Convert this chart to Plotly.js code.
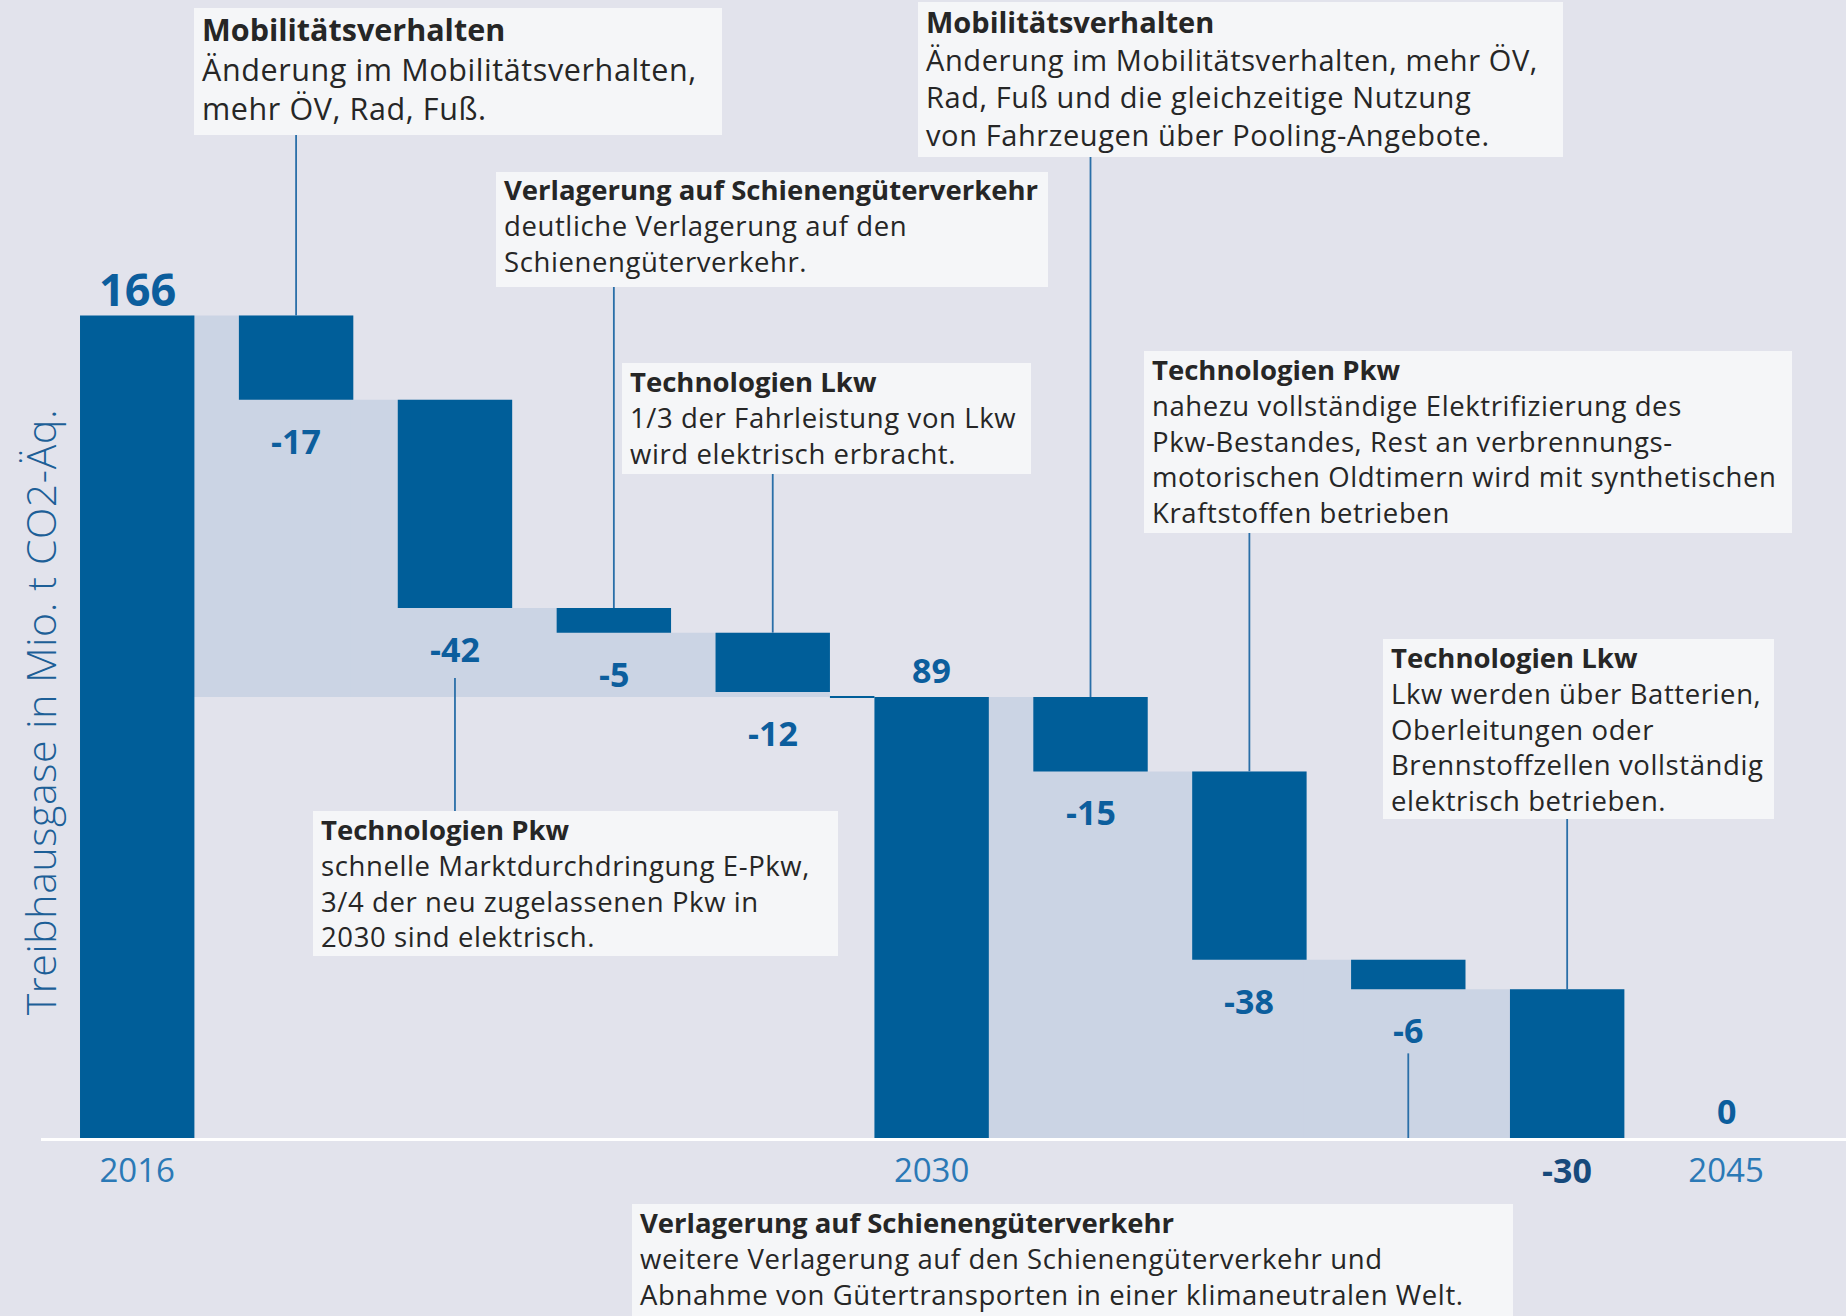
<!DOCTYPE html>
<html>
<head>
<meta charset="utf-8">
<script src="https://cdn.plot.ly/plotly-3.0.1.min.js"></script>
<style>
  html, body { margin: 0; padding: 0; background: #e2e3ec; }
  #chart { width: 1846px; height: 1316px; }
  .annotation-text-g text { letter-spacing: 0.6px; }
  .annotation-text-g tspan[style*="bold"] { letter-spacing: 0px; }
</style>
</head>
<body>
<div id="chart"></div>
<script>
// ---------------- DATA ----------------
const categories = ['2016', 'Mobilitätsverhalten I', 'Technologien Pkw I', 'Verlagerung Schiene I', 'Technologien Lkw I',
                    '2030', 'Mobilitätsverhalten II', 'Technologien Pkw II', 'Verlagerung Schiene II', 'Technologien Lkw II', '2045'];
const measures = ['absolute', 'relative', 'relative', 'relative', 'relative',
                  'absolute', 'relative', 'relative', 'relative', 'relative', 'absolute'];
const values = [166, -17, -42, -5, -12, 89, -15, -38, -6, -30, 0];
const valueLabels = ['166', '-17', '-42', '-5', '-12', '89', '-15', '-38', '-6', '-30', '0'];
const yearTickVals = ['2016', '2030', '2045'];
const yearTickText = ['2016', '2030', '2045'];
const yAxisTitle = 'Treibhausgase in Mio. t CO2-Äq.';

const noteTitles = [
  'Mobilitätsverhalten',
  'Verlagerung auf Schienengüterverkehr',
  'Technologien Lkw',
  'Technologien Pkw',
  'Mobilitätsverhalten',
  'Technologien Pkw',
  'Technologien Lkw',
  'Verlagerung auf Schienengüterverkehr'
];
const noteTexts = [
  ['Änderung im Mobilitätsverhalten,', 'mehr ÖV, Rad, Fuß.'],
  ['deutliche Verlagerung auf den', 'Schienengüterverkehr.'],
  ['1/3 der Fahrleistung von Lkw', 'wird elektrisch erbracht.'],
  ['schnelle Marktdurchdringung E-Pkw,', '3/4 der neu zugelassenen Pkw in', '2030 sind elektrisch.'],
  ['Änderung im Mobilitätsverhalten, mehr ÖV,', 'Rad, Fuß und die gleichzeitige Nutzung', 'von Fahrzeugen über Pooling-Angebote.'],
  ['nahezu vollständige Elektrifizierung des', 'Pkw-Bestandes, Rest an verbrennungs-', 'motorischen Oldtimern wird mit synthetischen', 'Kraftstoffen betrieben'],
  ['Lkw werden über Batterien,', 'Oberleitungen oder', 'Brennstoffzellen vollständig', 'elektrisch betrieben.'],
  ['weitere Verlagerung auf den Schienengüterverkehr und', 'Abnahme von Gütertransporten in einer klimaneutralen Welt.']
];
const noteTargets = [1, 3, 4, 2, 6, 7, 9, 8];

// ---------------- LAYOUT CONSTANTS ----------------
const FONT = '"Open Sans", "Noto Sans", "DejaVu Sans", sans-serif';
const BAR_COLOR = '#005e99';
const FILL_COLOR = '#cbd4e4';
const BG = '#e2e3ec';
const BOX_BG = '#f5f6f8';
const LINE_COLOR = '#2a6fa8';
const LABEL_COLOR = '#0c5e9d';
const YEAR_COLOR = '#2b79b6';

const W = 1846, H = 1316;
const M = { l: 41, r: 0, t: 0, b: 178 };
const plotW = W - M.l - M.r, plotH = H - M.t - M.b;
const Y_MAX = 229.7;
const pxPerUnit = plotH / Y_MAX;
const X_RANGE = [-0.6055, 10.755];
const GAP = 0.28;
const HW = (1 - GAP) / 2;
const SEAM = 0.02;

// box layout in page pixels: left, top, width, height, font size, side
const noteBoxes = [
  { x: 194, y: 8, w: 528, h: 127, fs: 30.5, side: 'above' },
  { x: 496, y: 172, w: 552, h: 115, fs: 27.5, side: 'above' },
  { x: 622, y: 363, w: 409, h: 111, fs: 27.5, side: 'above' },
  { x: 313, y: 811, w: 525, h: 145, fs: 27.5, side: 'below', gapPx: 70 },
  { x: 918, y: 2, w: 645, h: 155, fs: 29, side: 'above' },
  { x: 1144, y: 351, w: 648, h: 182, fs: 27.5, side: 'above' },
  { x: 1383, y: 639, w: 391, h: 180, fs: 27.5, side: 'above' },
  { x: 632, y: 1204, w: 881, h: 130, fs: 27.5, side: 'below', gapPx: 64 }
];
const TEXT_PAD_X = 7, TEXT_PAD_Y = -1.5;

const px2paperX = px => (px - M.l) / plotW;
const px2paperY = py => (M.t + plotH - py) / plotH;
const px2dataY = py => (M.t + plotH - py) / pxPerUnit;

// ---------------- DERIVED LEVELS ----------------
const tops = [], bottoms = [];
let level = 0;
values.forEach((v, i) => {
  if (measures[i] === 'absolute') { bottoms.push(0); tops.push(v); level = v; }
  else { tops.push(level); level += v; bottoms.push(level); }
});
const floors = values.map((v, i) => {
  for (let j = i + 1; j < values.length; j++) if (measures[j] === 'absolute') return values[j];
  return 0;
});

// ---------------- SHAPES ----------------
const shapes = [];
values.forEach((v, i) => {
  if (measures[i] === 'relative') {
    shapes.push({ type: 'rect', xref: 'x', yref: 'y', layer: 'below',
      x0: i - 1 + HW - SEAM, x1: i + HW, y0: floors[i], y1: tops[i],
      fillcolor: FILL_COLOR, line: { width: 0 } });
  } else if (i > 0 && v > 0) {
    shapes.push({ type: 'line', xref: 'x', yref: 'y', layer: 'below',
      x0: i - 1 + HW, x1: i - HW, y0: v, y1: v,
      line: { color: BAR_COLOR, width: 2 } });
  }
});
noteBoxes.forEach(b => {
  shapes.push({ type: 'rect', xref: 'paper', yref: 'paper', layer: 'above',
    x0: px2paperX(b.x), x1: px2paperX(b.x + b.w), y0: px2paperY(b.y + b.h), y1: px2paperY(b.y),
    fillcolor: BOX_BG, line: { width: 0 } });
});
noteBoxes.forEach((b, k) => {
  const t = noteTargets[k];
  let y0, y1;
  if (b.side === 'above') { y0 = px2dataY(b.y + b.h); y1 = tops[t]; }
  else { y0 = bottoms[t] - b.gapPx / pxPerUnit; y1 = px2dataY(b.y); }
  shapes.push({ type: 'line', xref: 'x', yref: 'y', layer: 'above',
    x0: t, x1: t, y0: y0, y1: y1, line: { color: LINE_COLOR, width: 1.8 } });
});

// ---------------- ANNOTATIONS ----------------
const annotations = [];
values.forEach((v, i) => {
  const isAbs = measures[i] === 'absolute';
  const belowAxis = !isAbs && bottoms[i] === 0;
  annotations.push({
    x: i, y: isAbs ? tops[i] : bottoms[i], xref: 'x', yref: 'y',
    text: '<b>' + valueLabels[i] + '</b>', showarrow: false,
    xanchor: 'center', yanchor: 'middle', yshift: isAbs ? 27 : (belowAxis ? -32 : -41),
    font: { family: FONT, size: i === 0 ? 45 : 34, color: belowAxis ? '#174a7c' : LABEL_COLOR }
  });
});
noteBoxes.forEach((b, k) => {
  annotations.push({
    xref: 'paper', yref: 'paper', x: px2paperX(b.x + TEXT_PAD_X), y: px2paperY(b.y + TEXT_PAD_Y),
    xanchor: 'left', yanchor: 'top', showarrow: false, borderpad: 0,
    align: 'left',
    text: '<b>' + noteTitles[k] + '</b><br>' + noteTexts[k].join('<br>'),
    font: { family: FONT, size: b.fs, color: '#262626' }
  });
});
annotations.push({
  xref: 'paper', yref: 'paper', x: px2paperX(40), y: px2paperY(712),
  xanchor: 'center', yanchor: 'middle', showarrow: false, textangle: -90,
  text: yAxisTitle, font: { family: FONT, size: 41, color: '#1d5f97', weight: 300 }
});

// ---------------- TRACE ----------------
const trace = {
  type: 'waterfall', x: categories, y: values, measure: measures,
  increasing: { marker: { color: BAR_COLOR, line: { width: 0 } } },
  decreasing: { marker: { color: BAR_COLOR, line: { width: 0 } } },
  totals: { marker: { color: BAR_COLOR, line: { width: 0 } } },
  connector: { visible: false }, textinfo: 'none', hoverinfo: 'skip'
};

const layout = {
  width: W, height: H, margin: M,
  paper_bgcolor: BG, plot_bgcolor: BG,
  showlegend: false, waterfallgap: GAP,
  xaxis: {
    type: 'category', range: X_RANGE, showgrid: false, zeroline: false,
    showline: true, linecolor: '#ffffff', linewidth: 3,
    tickmode: 'array', tickvals: yearTickVals, ticktext: yearTickText, ticks: '',
    ticklabelstandoff: 1,
    tickfont: { family: FONT, size: 33, color: YEAR_COLOR }
  },
  yaxis: { range: [0, Y_MAX], visible: false, showgrid: false, zeroline: false, fixedrange: true },
  shapes: shapes, annotations: annotations
};

Plotly.newPlot('chart', [trace], layout, { staticPlot: true, displayModeBar: false });
</script>
</body>
</html>
